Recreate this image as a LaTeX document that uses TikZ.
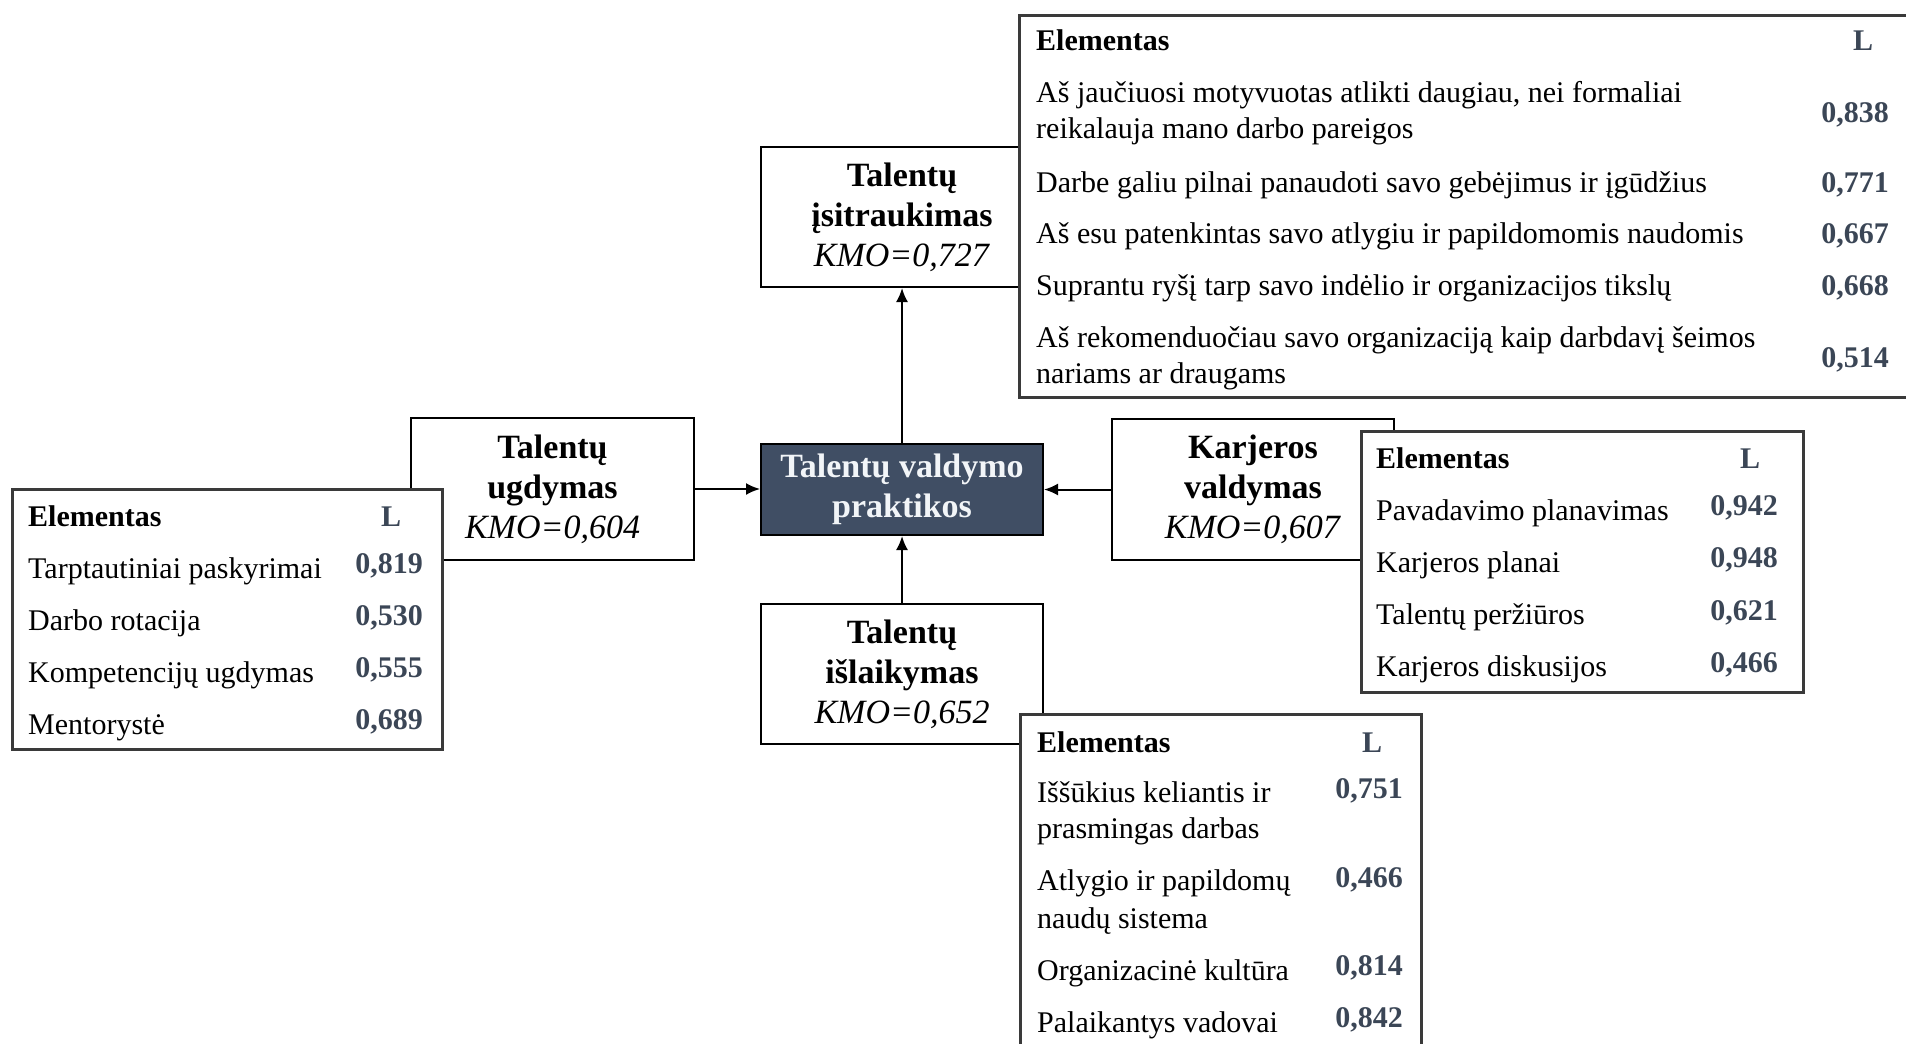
\documentclass[tikz,border=0pt]{standalone}
\usepackage{fontspec}
\setmainfont{Liberation Serif}
\usetikzlibrary{arrows.meta}
\definecolor{navy}{HTML}{404E64}
\definecolor{valc}{HTML}{3B4656}
\definecolor{tabline}{HTML}{3A3A3A}
\definecolor{lighttext}{HTML}{F2F5F8}
\begin{document}
\begin{tikzpicture}[x=1pt,y=-1pt,
  box/.style={draw=black,line width=2pt,fill=white,minimum width=282pt,minimum height=140pt,inner sep=0pt,align=center,font=\fontsize{34}{40}\selectfont},
  mainbox/.style={box,fill=navy,text=lighttext,minimum height=91pt},
  arr/.style={draw=black,line width=2pt,-{Latex[length=14pt,width=12pt]}},
  tab/.style={draw=tabline,line width=3pt,fill=white},
  cell/.style={inner sep=0pt,anchor=base west,font=\fontsize{30}{36}\selectfont},
  hd/.style={cell,font=\fontsize{30}{36}\selectfont\bfseries},
  val/.style={inner sep=0pt,anchor=base,text=valc,font=\fontsize{30}{36}\selectfont\bfseries}
]
\fill[white] (0,0) rectangle (1906,1044);
\useasboundingbox (0,0) rectangle (1906,1044);

% category boxes
\node[box] (E) at (902,217) {\textbf{Talentų}\\\textbf{įsitraukimas}\\\textit{KMO=0,727}};
\node[box,minimum width=283pt,minimum height=142pt] (D) at (552.5,489) {\textbf{Talentų}\\\textbf{ugdymas}\\\textit{KMO=0,604}};
\node[box,minimum height=141pt] (K) at (1253,489.5) {\textbf{Karjeros}\\\textbf{valdymas}\\\textit{KMO=0,607}};
\node[box] (R) at (902,674) {\textbf{Talentų}\\\textbf{išlaikymas}\\\textit{KMO=0,652}};
\node[mainbox] (C) at (902,489.5) {\textbf{Talentų valdymo}\\\textbf{praktikos}};

% connectors
\draw[arr] (C.north) -- (E.south);
\draw[arr] (D.east) -- (D.east -| C.west);
\draw[arr] (K.west) -- (K.west -| C.east);
\draw[arr] (R.north) -- (C.south);

% table: engagement
\draw[tab] (1019,15) rectangle (1930,397);
\node[hd] (t1h) at (1036,50) {Elementas};
\node[val] (t1L) at (1863,50) {L};
\node[cell] (t1r1a) at (1036,102) {Aš jaučiuosi motyvuotas atlikti daugiau, nei formaliai};
\node[cell] (t1r1b) at (1036,138) {reikalauja mano darbo pareigos};
\node[val] (t1v1) at (1855,122) {0,838};
\node[cell] (t1r2) at (1036,192) {Darbe galiu pilnai panaudoti savo gebėjimus ir įgūdžius};
\node[val] (t1v2) at (1855,192) {0,771};
\node[cell] (t1r3) at (1036,243) {Aš esu patenkintas savo atlygiu ir papildomomis naudomis};
\node[val] (t1v3) at (1855,243) {0,667};
\node[cell] (t1r4) at (1036,295) {Suprantu ryšį tarp savo indėlio ir organizacijos tikslų};
\node[val] (t1v4) at (1855,295) {0,668};
\node[cell] (t1r5a) at (1036,347) {Aš rekomenduočiau savo organizaciją kaip darbdavį šeimos};
\node[cell] (t1r5b) at (1036,383) {nariams ar draugams};
\node[val] (t1v5) at (1855,367) {0,514};

% table: development
\draw[tab] (12,489) rectangle (442,749);
\node[hd] (t2h) at (28,526) {Elementas};
\node[val] (t2L) at (391,526) {L};
\node[cell] (t2r1) at (28,578) {Tarptautiniai paskyrimai};
\node[val] (t2v1) at (389,573) {0,819};
\node[cell] (t2r2) at (28,630) {Darbo rotacija};
\node[val] (t2v2) at (389,625) {0,530};
\node[cell] (t2r3) at (28,682) {Kompetencijų ugdymas};
\node[val] (t2v3) at (389,677) {0,555};
\node[cell] (t2r4) at (28,734) {Mentorystė};
\node[val] (t2v4) at (389,729) {0,689};

% table: career
\draw[tab] (1361,431) rectangle (1803,692);
\node[hd] (t3h) at (1376,468) {Elementas};
\node[val] (t3L) at (1750,468) {L};
\node[cell] (t3r1) at (1376,520) {Pavadavimo planavimas};
\node[val] (t3v1) at (1744,515) {0,942};
\node[cell] (t3r2) at (1376,572) {Karjeros planai};
\node[val] (t3v2) at (1744,567) {0,948};
\node[cell] (t3r3) at (1376,624) {Talentų peržiūros};
\node[val] (t3v3) at (1744,620) {0,621};
\node[cell] (t3r4) at (1376,676) {Karjeros diskusijos};
\node[val] (t3v4) at (1744,672) {0,466};

% table: retention
\draw[tab] (1020,714) rectangle (1421,1070);
\node[hd] (t4h) at (1037,752) {Elementas};
\node[val] (t4L) at (1372,752) {L};
\node[cell] (t4r1a) at (1037,802) {Iššūkius keliantis ir};
\node[cell] (t4r1b) at (1037,838) {prasmingas darbas};
\node[val] (t4v1) at (1369,798) {0,751};
\node[cell] (t4r2a) at (1037,890) {Atlygio ir papildomų};
\node[cell] (t4r2b) at (1037,928) {naudų sistema};
\node[val] (t4v2) at (1369,887) {0,466};
\node[cell] (t4r3) at (1037,980) {Organizacinė kultūra};
\node[val] (t4v3) at (1369,975) {0,814};
\node[cell] (t4r4) at (1037,1032) {Palaikantys vadovai};
\node[val] (t4v4) at (1369,1027) {0,842};
\end{tikzpicture}
\end{document}
